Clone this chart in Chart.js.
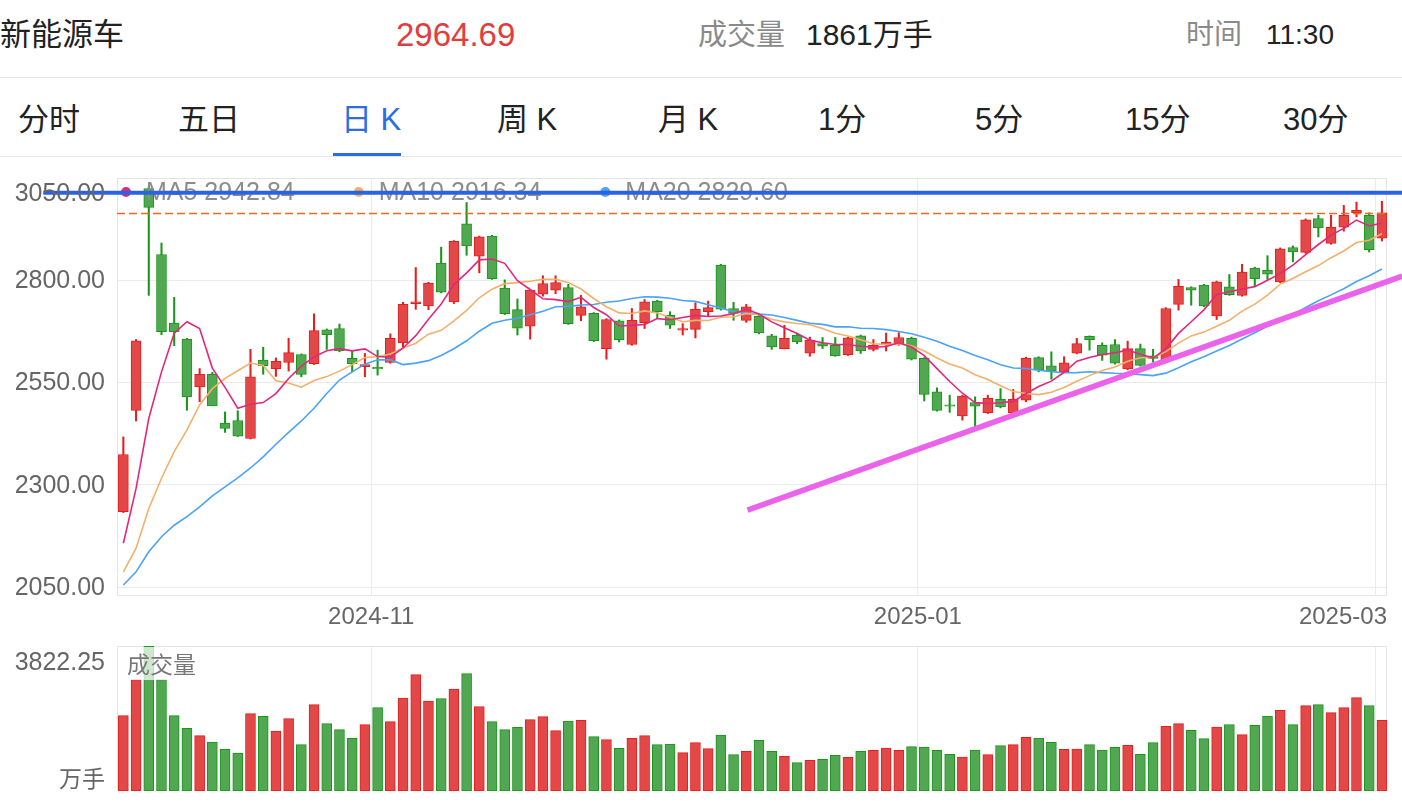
<!DOCTYPE html>
<html>
<head>
<meta charset="utf-8">
<script src="https://cdn.jsdelivr.net/npm/chart.js@4.4.1/dist/chart.umd.min.js"></script>
<style>
html,body{margin:0;padding:0;background:#fff;}
body{width:1402px;height:806px;position:relative;overflow:hidden;font-family:"Liberation Sans","Noto Sans CJK SC",sans-serif;}
.t{position:absolute;white-space:nowrap;line-height:1;transform:translateY(-50%);}
.hr{position:absolute;left:0;width:1402px;height:1px;background:#e6e6e6;}
canvas{position:absolute;left:0;}
</style>
</head>
<body>
<div class="t" style="left:0;top:34px;font-size:31px;color:#222;">新能源车</div>
<div class="t" style="left:396px;top:34px;font-size:33px;color:#e23d3d;">2964.69</div>
<div class="t" style="left:698px;top:35px;font-size:29px;color:#8a8a8a;">成交量</div>
<div class="t" style="left:806px;top:35px;font-size:30px;color:#222;">1861万手</div>
<div class="t" style="left:1186px;top:35px;font-size:28px;color:#8a8a8a;">时间</div>
<div class="t" style="left:1266px;top:35px;font-size:28px;color:#222;">11:30</div>
<div class="hr" style="top:77px;"></div>

<div class="t" style="left:18px;top:119px;font-size:31px;color:#222;">分时</div>
<div class="t" style="left:178px;top:119px;font-size:31px;color:#222;">五日</div>
<div class="t" style="left:341px;top:119px;font-size:31px;color:#2b6de5;">日 K</div>
<div class="t" style="left:497px;top:119px;font-size:31px;color:#222;">周 K</div>
<div class="t" style="left:658px;top:119px;font-size:31px;color:#222;">月 K</div>
<div class="t" style="left:818px;top:119px;font-size:31px;color:#222;">1分</div>
<div class="t" style="left:975px;top:119px;font-size:31px;color:#222;">5分</div>
<div class="t" style="left:1125px;top:119px;font-size:31px;color:#222;">15分</div>
<div class="t" style="left:1283px;top:119px;font-size:31px;color:#222;">30分</div>
<div style="position:absolute;left:333px;top:153px;width:68px;height:3px;background:#2b6de5;"></div>
<div class="hr" style="top:156px;"></div>

<canvas id="main" width="1402" height="483" style="top:157px;"></canvas>
<canvas id="vol" width="1402" height="166" style="top:640px;"></canvas>

<script>
// ---------------- data ----------------
const monthLabels = ['2024-11', '2025-01', '2025-03'];
const monthStartIndex = [20, 63, 99];          // first trading day of each labelled month
const priceTicks = [2050, 2300, 2550, 2800, 3050];

const opens = [2234,2482,3024,2863,2695,2656,2539,2570,2451,2457,
2413,2605,2584,2599,2618,2596,2679,2682,2609,2589,
2587,2599,2647,2743,2737,2842,2747,2938,2859,2908,
2781,2728,2688,2766,2776,2782,2714,2719,2633,2701,
2643,2696,2749,2714,2678,2680,2723,2837,2731,2702,
2712,2664,2633,2666,2622,2645,2641,2618,2664,2631,
2643,2645,2658,2609,2527,2495,2468,2501,2476,2509,
2476,2507,2611,2591,2576,2622,2663,2641,2643,2583,
2633,2615,2604,2741,2782,2788,2713,2784,2763,2830,
2824,2796,2880,2868,2951,2890,2930,2965,2959,2903];

const highs = [2417,2655,3030,2891,2758,2658,2584,2575,2478,2481,
2631,2636,2610,2658,2620,2718,2681,2693,2627,2621,
2629,2669,2746,2831,2795,2881,2897,2990,2908,2910,
2801,2754,2778,2811,2811,2790,2763,2721,2706,2703,
2731,2753,2751,2723,2694,2745,2749,2839,2746,2741,
2714,2668,2690,2670,2661,2660,2660,2661,2666,2655,
2671,2672,2661,2611,2537,2519,2519,2515,2519,2535,
2533,2612,2613,2625,2613,2658,2664,2647,2655,2651,
2644,2631,2733,2802,2784,2790,2798,2814,2839,2832,
2860,2879,2884,2950,2959,2959,2983,2991,2965,2993];

const lows = [2232,2456,2763,2667,2640,2482,2503,2493,2428,2418,
2412,2570,2565,2578,2564,2594,2631,2625,2576,2564,
2568,2597,2637,2729,2728,2769,2743,2861,2818,2802,
2716,2666,2656,2761,2767,2692,2701,2650,2607,2649,
2641,2682,2706,2682,2666,2659,2712,2727,2702,2697,
2669,2631,2632,2645,2614,2633,2614,2616,2621,2627,
2627,2641,2605,2505,2480,2477,2458,2438,2474,2488,
2474,2503,2576,2558,2574,2620,2629,2604,2595,2581,
2590,2600,2602,2727,2739,2735,2704,2763,2761,2785,
2802,2794,2845,2866,2906,2888,2920,2955,2869,2896];

const closes = [2374,2652,2978,2674,2674,2515,2570,2493,2438,2419,
2564,2591,2602,2623,2570,2677,2667,2627,2596,2594,
2583,2658,2741,2747,2793,2771,2895,2884,2906,2804,
2718,2683,2776,2792,2794,2694,2735,2652,2704,2655,
2702,2747,2723,2690,2682,2729,2733,2729,2719,2735,
2671,2637,2658,2649,2653,2639,2615,2659,2627,2641,
2649,2660,2607,2521,2482,2492,2517,2492,2511,2490,
2509,2610,2580,2578,2598,2645,2655,2617,2597,2633,
2592,2609,2731,2785,2776,2737,2796,2765,2820,2804,
2815,2877,2869,2948,2928,2930,2959,2971,2875,2964.69];

const volumes = [1988,2936,3822.25,2936,1988,1653,1460,1292,1099,1002,
2040,1969,1582,1908,1223,2277,1776,1618,1389,1750,
2198,1829,2451,3068,2372,2436,2689,3095,2225,1829,
1618,1679,1882,1961,1592,1845,1864,1434,1355,1126,
1389,1460,1223,1239,1012,1276,1118,1476,960,1047,
1336,1047,915,749,809,836,941,888,1047,1073,
1134,1073,1170,1160,1073,967,896,1080,960,1197,
1223,1416,1397,1284,1099,1108,1223,1080,1152,1205,
967,1276,1706,1776,1600,1381,1687,1750,1487,1732,
1977,2127,1750,2251,2277,2067,2198,2462,2251,1861];

// moving-average values at the start of the window (earlier trading days are off-chart)
const ma5Head  = [2157,2291,2462,2576];
const ma10Head = [2087,2145,2242,2316,2381,2434,2495,2535,2560];
const ma20Head = [2055,2087,2136,2173,2201,2222,2246,2273,2295,2317,2341,2368,2399,2428,2456,2487,2523,2556,2576];

const maNames = ['MA5', 'MA10', 'MA20'];
const maLegendValues = [2942.84, 2916.34, 2829.60];

const volumeAxisMax = 3822.25;
const currentPrice = 2964.69;

// user drawings (in index / price units)
const levelLine = {fromIndex: -6.3, price: 3014};
const trendLine = [{x: 49.1, y: 2238}, {x: 100.6, y: 2810}];

// ---------------- styles ----------------
const upFill = 'rgb(226,72,72)', upLine = 'rgb(232,28,28)';
const dnFill = 'rgb(82,168,82)', dnLine = 'rgb(24,150,24)';
const maColors = ['#e0287e', '#f3b06a', '#4aa3f5'];
const gridColor = '#ebebeb';
const axisFont = '25px "Liberation Sans","Noto Sans CJK SC",sans-serif';
const dateFont = '24px "Liberation Sans","Noto Sans CJK SC",sans-serif';

// ---------------- derived ----------------
function movingAverage(n, head) {
  return closes.map((c, i) => {
    if (i < n - 1) return head[i];
    let s = 0;
    for (let k = i - n + 1; k <= i; k++) s += closes[k];
    return s / n;
  });
}
const ma = [movingAverage(5, ma5Head), movingAverage(10, ma10Head), movingAverage(20, ma20Head)];
const isUp = closes.map((c, i) => c >= opens[i]);

const bodyPts = closes.map((c, i) => ({x: i, y: [opens[i], c]}));
const wickPts = closes.map((c, i) => ({x: i, y: [lows[i], highs[i]]}));
const volPts = volumes.map((v, i) => ({x: i, y: v}));

const xScaleCfg = () => ({
  type: 'linear', min: -0.5, max: 99.4, offset: false,
  grid: {offset: false, color: gridColor, drawTicks: false, lineWidth: 1},
  border: {display: false},
  ticks: {display: false},
  afterBuildTicks: s => { s.ticks = monthStartIndex.map(i => ({value: i - 0.5})); }
});

function frame(ctx, a, sides) {
  ctx.save();
  ctx.strokeStyle = '#e4e4e4';
  ctx.lineWidth = 1;
  ctx.beginPath();
  const L = Math.round(a.left) + 0.5, R = Math.round(a.right) - 0.5, T = Math.round(a.top) + 0.5, B = Math.round(a.bottom) - 0.5;
  if (sides.top) { ctx.moveTo(L, T); ctx.lineTo(R, T); }
  if (sides.bottom) { ctx.moveTo(L, B); ctx.lineTo(R, B); }
  if (sides.left) { ctx.moveTo(L, T); ctx.lineTo(L, B); }
  if (sides.right) { ctx.moveTo(R, T); ctx.lineTo(R, B); }
  ctx.stroke();
  ctx.restore();
}

const mainDecor = {
  id: 'mainDecor',
  beforeDatasetsDraw(chart) {
    frame(chart.ctx, chart.chartArea, {top: true, bottom: true, left: true, right: true});
  },
  afterDatasetsDraw(chart) {
    const {ctx, chartArea: a, scales: {x, y}} = chart;
    ctx.save();
    // legend
    ctx.font = axisFont;
    ctx.textBaseline = 'middle';
    ctx.textAlign = 'left';
    let lx = a.left + 9;
    const ly = a.top + 14;
    maNames.forEach((n, k) => {
      ctx.fillStyle = maColors[k];
      ctx.beginPath(); ctx.arc(lx, ly, 5, 0, Math.PI * 2); ctx.fill();
      const txt = n + ' ' + maLegendValues[k].toFixed(2);
      ctx.fillStyle = '#8c8c8c';
      ctx.fillText(txt, lx + 20, ly + 1);
      lx += 20 + ctx.measureText(txt).width + 64;
    });
    // current price dashed line
    const py = Math.round(y.getPixelForValue(currentPrice)) + 0.5;
    ctx.strokeStyle = '#f06a1c';
    ctx.lineWidth = 1.5;
    ctx.setLineDash([8, 4]);
    ctx.beginPath(); ctx.moveTo(a.left, py); ctx.lineTo(a.right, py); ctx.stroke();
    ctx.setLineDash([]);
    // horizontal level line
    ctx.strokeStyle = '#2a62e4';
    ctx.lineWidth = 4;
    const hy = y.getPixelForValue(levelLine.price);
    ctx.beginPath(); ctx.moveTo(x.getPixelForValue(levelLine.fromIndex), hy); ctx.lineTo(chart.width, hy); ctx.stroke();
    // trend line
    ctx.strokeStyle = '#eb62eb';
    ctx.lineWidth = 5.5;
    ctx.beginPath();
    ctx.moveTo(x.getPixelForValue(trendLine[0].x), y.getPixelForValue(trendLine[0].y));
    ctx.lineTo(x.getPixelForValue(trendLine[1].x), y.getPixelForValue(trendLine[1].y));
    ctx.stroke();
    ctx.restore();
  },
  afterDraw(chart) {
    const {ctx, chartArea: a, scales: {x, y}} = chart;
    ctx.save();
    ctx.font = axisFont;
    ctx.fillStyle = '#666';
    ctx.textBaseline = 'middle';
    ctx.textAlign = 'right';
    priceTicks.forEach(v => {
      let p = y.getPixelForValue(v);
      if (p - 12 < a.top) p = a.top + 15;
      ctx.fillText(v.toFixed(2), a.left - 12, p + 1);
    });
    ctx.font = dateFont;
    ctx.textAlign = 'center';
    monthStartIndex.forEach((idx, k) => {
      const w = ctx.measureText(monthLabels[k]).width;
      let p = x.getPixelForValue(idx - 0.5);
      p = Math.min(Math.max(p, a.left + w / 2), a.right - w / 2);
      ctx.fillText(monthLabels[k], p, a.bottom + 21);
    });
    ctx.restore();
  }
};

new Chart(document.getElementById('main'), {
  type: 'bar',
  data: {
    datasets: [
      ...ma.map((vals, k) => ({
        type: 'line', label: maNames[k],
        data: vals.map((v, i) => ({x: i, y: v})),
        borderColor: maColors[k], borderWidth: 1.6, pointRadius: 0, tension: 0, fill: false
      })),
      {
        type: 'bar', label: 'body', data: bodyPts, grouped: false,
        backgroundColor: isUp.map(u => u ? upFill : dnFill),
        borderColor: isUp.map(u => u ? upLine : dnLine),
        borderWidth: 1, borderSkipped: false, barThickness: 10, minBarLength: 1.5
      },
      {
        type: 'bar', label: 'wick', data: wickPts, grouped: false,
        backgroundColor: isUp.map(u => u ? upLine : dnLine),
        borderWidth: 0, barThickness: 1.4
      }
    ]
  },
  options: {
    responsive: false, animation: false, devicePixelRatio: 1, events: [],
    layout: {padding: {left: 117, right: 15, top: 21, bottom: 44}},
    plugins: {legend: {display: false}, tooltip: {enabled: false}},
    scales: {
      x: xScaleCfg(),
      y: {
        type: 'linear', min: 2028, max: 3050,
        grid: {color: gridColor, drawTicks: false}, border: {display: false},
        ticks: {display: false},
        afterBuildTicks: s => { s.ticks = priceTicks.map(v => ({value: v})); }
      }
    }
  },
  plugins: [mainDecor]
});

const volDecor = {
  id: 'volDecor',
  beforeDatasetsDraw(chart) {
    frame(chart.ctx, chart.chartArea, {top: true, left: true, right: true});
  },
  afterDraw(chart) {
    const {ctx, chartArea: a} = chart;
    ctx.save();
    ctx.fillStyle = 'rgba(255,255,255,0.72)';
    ctx.fillRect(a.left + 7, a.top + 1, 77, 33);
    ctx.font = '23px "Noto Sans CJK SC",sans-serif';
    ctx.fillStyle = '#777';
    ctx.textBaseline = 'middle';
    ctx.textAlign = 'left';
    ctx.fillText('成交量', a.left + 10, a.top + 18);
    ctx.fillStyle = '#666';
    ctx.textAlign = 'right';
    ctx.fillText('万手', a.left - 12, a.bottom - 13);
    ctx.font = axisFont;
    ctx.fillText(volumeAxisMax.toFixed(2), a.left - 12, a.top + 17);
    ctx.restore();
  }
};

new Chart(document.getElementById('vol'), {
  type: 'bar',
  data: {
    datasets: [{
      label: '成交量', data: volPts,
      backgroundColor: isUp.map(u => u ? upFill : dnFill),
      borderColor: isUp.map(u => u ? upLine : dnLine),
      borderWidth: 1, borderSkipped: false, barThickness: 10
    }]
  },
  options: {
    responsive: false, animation: false, devicePixelRatio: 1, events: [],
    layout: {padding: {left: 117, right: 15, top: 6, bottom: 15}},
    plugins: {legend: {display: false}, tooltip: {enabled: false}},
    scales: {
      x: xScaleCfg(),
      y: {type: 'linear', min: 0, max: volumeAxisMax, grid: {display: false, drawTicks: false}, border: {display: false}, ticks: {display: false}}
    }
  },
  plugins: [volDecor]
});
</script>
</body>
</html>
